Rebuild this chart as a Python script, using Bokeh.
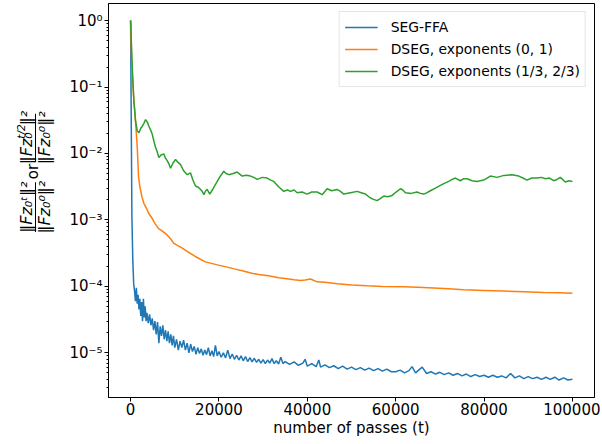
import math
from bokeh.plotting import figure
from bokeh.layouts import row
from bokeh.models import (FixedTicker, CustomJSTickFormatter, NumeralTickFormatter, Range1d)
from bokeh.core.properties import value
from bokeh.embed import file_html
from bokeh.resources import INLINE

# ---------------- data ----------------
X_TICKS = [0, 20000, 40000, 60000, 80000, 100000]
Y_TICKS = [1e-5, 1e-4, 1e-3, 1e-2, 1e-1, 1e0]

SERIES_NAMES = ["SEG-FFA", "DSEG, exponents (0, 1)", "DSEG, exponents (1/3, 2/3)"]
SERIES_COLORS = ["#1f77b4", "#ff7f0e", "#2ca02c"]

seg_t = [0, 150, 300, 500, 700, 900, 1100, 1300, 1500, 1700, 1900, 2100, 2300, 2500, 2700,
         2900, 3100, 3300, 3500, 3700, 4000, 4300, 4600, 4900, 5200, 5500, 5800, 6100, 6400,
         6700, 7000, 7300, 7600, 7900, 8200, 8500, 8800, 9100, 9400, 9700, 10000, 10400,
         10800, 11200, 11600, 12000, 12400, 12800, 13200, 13600, 14000, 14400, 14800, 15200,
         15600, 16000, 16400, 16800, 17200, 17600, 18000, 18400, 18800, 19200, 19600, 20000,
         20500, 21000, 21500, 22000, 22500, 23000, 23500, 24000, 24500, 25000, 25500, 26000,
         26500, 27000, 27500, 28000, 28500, 29000, 29500, 30000, 30500, 31000, 31500, 32000,
         32500, 33000, 33500, 34000, 34500, 35000, 36000, 37000, 38000, 39000, 39500, 40000,
         41000, 42000, 42600, 43000, 44000, 45000, 46000, 47000, 48000, 49000, 50000, 51000,
         52000, 53000, 54000, 55000, 56000, 57000, 58000, 59000, 60000, 61000, 62000, 63000,
         63700, 64500, 65200, 66000, 67000, 68000, 69000, 70000, 71000, 72000, 73000, 74000,
         75000, 76000, 77000, 78000, 79000, 80000, 81000, 82000, 83000, 84000, 85000, 86000,
         87000, 88000, 89000, 90000, 91000, 92000, 93000, 94000, 95000, 96000, 97000, 98000,
         99000, 100000]
seg_v = [1.0, 3.0e-2, 1.1e-3, 2.5e-4, 1.1e-4, 8.5e-5, 6.0e-5, 9.5e-5, 5.5e-5, 7.5e-5, 4.5e-5,
         6.5e-5, 3.6e-5, 5.8e-5, 3.0e-5, 6.5e-5, 3.4e-5, 5.0e-5, 3.0e-5, 4.0e-5, 2.8e-5, 3.8e-5,
         2.6e-5, 3.3e-5, 2.2e-5, 3.0e-5, 1.9e-5, 2.9e-5, 1.4e-5, 2.5e-5, 1.8e-5, 2.6e-5, 1.6e-5,
         2.2e-5, 1.5e-5, 2.1e-5, 1.4e-5, 1.9e-5, 1.3e-5, 1.8e-5, 1.2e-5, 1.6e-5, 1.1e-5, 1.5e-5,
         1.2e-5, 1.55e-5, 1.1e-5, 1.4e-5, 1.0e-5, 1.35e-5, 1.05e-5, 1.25e-5, 9.5e-6, 1.2e-5,
         9.8e-6, 1.15e-5, 9.2e-6, 1.1e-5, 9.4e-6, 1.2e-5, 9.0e-6, 1.08e-5, 8.8e-6, 1.3e-5,
         9.0e-6, 1.05e-5, 8.6e-6, 1.0e-5, 8.4e-6, 1.1e-5, 8.2e-6, 9.6e-6, 8.0e-6, 9.2e-6,
         7.8e-6, 9.0e-6, 7.6e-6, 8.8e-6, 7.4e-6, 8.5e-6, 7.3e-6, 8.3e-6, 7.2e-6, 8.0e-6, 7.0e-6,
         7.9e-6, 6.9e-6, 7.8e-6, 7.0e-6, 8.2e-6, 6.9e-6, 7.6e-6, 6.8e-6, 8.6e-6, 6.9e-6, 7.4e-6,
         6.7e-6, 7.3e-6, 6.5e-6, 7.0e-6, 8.0e-6, 6.3e-6, 6.9e-6, 6.2e-6, 7.8e-6, 6.1e-6, 6.6e-6,
         6.0e-6, 6.4e-6, 5.8e-6, 6.3e-6, 5.7e-6, 6.1e-6, 5.6e-6, 6.0e-6, 5.5e-6, 5.9e-6, 5.4e-6,
         5.8e-6, 5.3e-6, 5.7e-6, 5.2e-6, 5.2e-6, 5.5e-6, 5.0e-6, 5.4e-6, 6.2e-6, 5.0e-6, 5.5e-6,
         6.1e-6, 4.9e-6, 5.2e-6, 4.8e-6, 5.1e-6, 4.7e-6, 5.0e-6, 4.6e-6, 4.9e-6, 4.5e-6, 4.8e-6,
         4.4e-6, 4.7e-6, 4.4e-6, 4.6e-6, 4.3e-6, 4.6e-6, 4.3e-6, 4.5e-6, 4.2e-6, 4.9e-6, 4.2e-6,
         4.5e-6, 4.1e-6, 4.4e-6, 4.1e-6, 4.3e-6, 4.0e-6, 4.3e-6, 4.0e-6, 4.3e-6, 3.9e-6, 4.2e-6,
         3.9e-6, 4.0e-6]

dseg01_t = [0, 100, 250, 500, 750, 1000, 1500, 1800, 2100, 2560, 3000, 3700, 4070, 4820, 5500,
            6330, 7200, 8210, 9000, 9730, 10500, 11600, 13000, 14630, 16900, 19900, 21900,
            23680, 25500, 27440, 29000, 31220, 33480, 35000, 37000, 38500, 39500, 40720, 42230,
            44000, 46750, 50000, 53540, 57000, 61820, 65000, 68600, 72000, 75390, 80000, 84440,
            89000, 93490, 97000, 100000]
dseg01_v = [1.0, 0.50, 0.25, 0.112, 0.0617, 0.0398, 0.0126, 4.47e-3, 3.16e-3, 2.24e-3, 1.78e-3,
            1.45e-3, 1.26e-3, 1.07e-3, 8.9e-4, 7.4e-4, 6.8e-4, 6.0e-4, 5.25e-4, 4.47e-4, 4.17e-4,
            3.8e-4, 3.31e-4, 2.82e-4, 2.34e-4, 2.09e-4, 1.95e-4, 1.82e-4, 1.70e-4, 1.58e-4,
            1.51e-4, 1.45e-4, 1.35e-4, 1.32e-4, 1.26e-4, 1.23e-4, 1.245e-4, 1.29e-4, 1.17e-4,
            1.15e-4, 1.10e-4, 1.05e-4, 1.02e-4, 1.0e-4, 9.9e-5, 9.7e-5, 9.5e-5, 9.2e-5, 8.9e-5,
            8.7e-5, 8.5e-5, 8.3e-5, 8.1e-5, 8.0e-5, 7.9e-5]

dseg13_t = [0, 380, 750, 1100, 1510, 1880, 2300, 2650, 3000, 3390, 3800, 4140, 4500, 4900, 5300,
            5660, 6000, 6400, 6900, 7530, 7900, 8290, 8700, 9050, 9600, 10180, 10700, 11310,
            12000, 12820, 13570, 14100, 14700, 15300, 15830, 16200, 16580, 17000, 17340, 17920,
            18500, 19000, 19610, 20300, 21100, 21600, 22240, 23200, 24130, 24700, 25260, 26200,
            27140, 27900, 28650, 29800, 30910, 31700, 32410, 33500, 34680, 35500, 36190, 37000,
            37700, 38800, 39960, 41000, 42230, 43360, 44490, 45500, 46750, 47500, 48250, 49800,
            51280, 52200, 53160, 54290, 55000, 55800, 56500, 57300, 58200, 59190, 60100, 61070,
            61600, 62200, 63500, 64840, 65600, 66330, 67100, 67860, 69000, 70120, 71000, 72000,
            72800, 73510, 74650, 75400, 76160, 77300, 78420, 79900, 81430, 82950, 84500, 86340,
            87840, 88800, 89730, 90800, 91990, 93000, 93870, 94800, 95750, 96500, 97270, 98400,
            99200, 100000]
dseg13_v = [1.0, 0.20, 0.0617, 0.0316, 0.0219, 0.0204, 0.0240, 0.0257, 0.0282, 0.0324, 0.0295,
            0.0257, 0.0229, 0.0195, 0.0151, 0.0123, 0.0107, 8.7e-3, 9.5e-3, 9.8e-3, 8.5e-3,
            7.8e-3, 6.9e-3, 6.0e-3, 7.2e-3, 8.1e-3, 7.4e-3, 6.8e-3, 5.5e-3, 4.8e-3, 5.1e-3,
            4.0e-3, 3.24e-3, 3.1e-3, 2.88e-3, 2.7e-3, 2.4e-3, 2.75e-3, 2.88e-3, 2.45e-3, 2.82e-3,
            3.24e-3, 3.8e-3, 4.57e-3, 5.4e-3, 5.0e-3, 4.8e-3, 5.0e-3, 5.25e-3, 4.9e-3, 4.57e-3,
            4.7e-3, 4.57e-3, 4.37e-3, 4.07e-3, 4.37e-3, 4.27e-3, 3.98e-3, 3.8e-3, 3.16e-3,
            2.69e-3, 2.82e-3, 2.69e-3, 2.82e-3, 2.57e-3, 2.63e-3, 2.45e-3, 2.63e-3, 2.63e-3,
            2.4e-3, 2.95e-3, 2.75e-3, 2.88e-3, 2.69e-3, 2.45e-3, 2.57e-3, 2.69e-3, 2.57e-3,
            2.45e-3, 2.14e-3, 2.04e-3, 1.95e-3, 2.09e-3, 2.29e-3, 2.24e-3, 2.34e-3, 2.63e-3,
            2.95e-3, 2.82e-3, 2.57e-3, 2.51e-3, 2.63e-3, 2.51e-3, 2.45e-3, 2.57e-3, 2.75e-3,
            3.02e-3, 3.31e-3, 3.55e-3, 3.8e-3, 4.07e-3, 4.27e-3, 3.89e-3, 4.17e-3, 4.17e-3,
            3.89e-3, 3.8e-3, 3.98e-3, 4.57e-3, 4.37e-3, 4.68e-3, 4.79e-3, 4.57e-3, 4.27e-3,
            3.98e-3, 4.27e-3, 4.27e-3, 4.37e-3, 4.17e-3, 4.27e-3, 3.89e-3, 4.07e-3, 4.37e-3,
            3.72e-3, 3.89e-3, 3.8e-3]

X_LABEL = "number of passes (t)"

FONT = "DejaVu Sans"
H = 443          # page height used
LW = 60          # width of the y-label strip

# ---------------- y-label strip (its own small figure, drawn in pixel space) ----------------
lf = figure(width=LW, height=H, output_backend="svg", toolbar_location=None,
            x_range=Range1d(0, LW), y_range=Range1d(H, 0),
            min_border=0, x_axis_location=None, y_axis_location=None,
            background_fill_color="white", border_fill_color="white")
lf.xgrid.visible = False
lf.ygrid.visible = False
lf.outline_line_color = None

ROT = math.pi / 2

def lab(txt, x, y, size="16px", style="italic", align="center"):
    lf.text(x=[x], y=[y], text=[txt], angle=ROT, text_font=value(FONT),
            text_font_size=value(size), text_font_style=style, text_align=align,
            text_baseline="middle", text_color="black")

NUM_X, DEN_X, BAR_X = 26, 44, 35
C1, C2 = 229, 151          # centres of the two fractions (page y)
lab("\u2016Fz\u2080\u1d57\u2016\u00b2", NUM_X, C1)
lab("\u2016Fz\u2080\u2070\u2016\u00b2", DEN_X, C1)
lab("or", 32, 189, size="15px", style="normal")
# ||Fz_0^{t/2}||^2
Q = C2 + 1
lab("\u2016Fz", NUM_X, Q, align="right")
lab("\u2080", NUM_X, Q, align="left")
lab("t/2", NUM_X - 6, Q, size="10.5px", align="left")
lab("\u2016\u00b2", NUM_X, Q - 15, align="left")
lab("\u2016Fz\u2080\u2070\u2016\u00b2", DEN_X, C2)
lf.segment(x0=[BAR_X, BAR_X], y0=[C1 - 28, C2 - 27], x1=[BAR_X, BAR_X], y1=[C1 + 28, C2 + 27],
           line_color="black", line_width=1)

# ---------------- main figure ----------------
p = figure(width=600 - LW, height=H, output_backend="svg", toolbar_location=None,
           y_axis_type="log",
           x_range=Range1d(-5000, 105000), y_range=Range1d(2.13e-6, 1.806),
           min_border_left=108 - LW, min_border_right=6, min_border_top=3, min_border_bottom=46,
           background_fill_color="white", border_fill_color="white")

p.xgrid.visible = False
p.ygrid.visible = False
p.outline_line_color = "black"
p.outline_line_width = 1
p.outline_line_alpha = 1

for t, v, name, col in zip([seg_t, dseg01_t, dseg13_t], [seg_v, dseg01_v, dseg13_v],
                           SERIES_NAMES, SERIES_COLORS):
    p.line(t, v, line_color=col, line_width=1.5, legend_label=name)

p.xaxis.ticker = FixedTicker(ticks=X_TICKS, minor_ticks=[])
p.xaxis.formatter = NumeralTickFormatter(format="0")
minor = [m * 10.0 ** e for e in range(-6, 1) for m in range(2, 10)]
p.yaxis.ticker = FixedTicker(ticks=Y_TICKS, minor_ticks=minor)
p.yaxis.formatter = CustomJSTickFormatter(code="""
    const sup = {"-": "\u207b", "0": "\u2070", "1": "\u00b9", "2": "\u00b2", "3": "\u00b3",
                 "4": "\u2074", "5": "\u2075", "6": "\u2076", "7": "\u2077", "8": "\u2078", "9": "\u2079"};
    const e = Math.round(Math.log10(tick));
    return "10" + String(e).split("").map(c => sup[c]).join("");
""")
for ax in (p.xaxis[0], p.yaxis[0]):
    ax.axis_line_color = "black"
    ax.major_tick_line_color = "black"
    ax.minor_tick_line_color = "black"
    ax.major_tick_out = 4
    ax.major_tick_in = 0
    ax.minor_tick_out = 2
    ax.minor_tick_in = 0
    ax.major_label_text_font = FONT
    ax.major_label_text_font_size = "15px"
    ax.major_label_text_color = "black"
    ax.major_label_standoff = 2
p.xaxis.minor_tick_line_color = None
p.xaxis.major_label_standoff = 1
p.xaxis.axis_label = X_LABEL
p.xaxis.axis_label_text_font = FONT
p.xaxis.axis_label_text_font_size = "15px"
p.xaxis.axis_label_text_font_style = "normal"
p.xaxis.axis_label_text_color = "black"
p.xaxis.axis_label_standoff = 1

lg = p.legend[0]
lg.location = "top_right"
lg.margin = 8
lg.padding = 5
lg.spacing = 2
lg.label_height = 20
lg.glyph_height = 20
lg.glyph_width = 33
lg.label_standoff = 13
lg.label_text_font = FONT
lg.label_text_font_size = "13.9px"
lg.label_text_color = "black"
lg.border_line_color = "#cccccc"
lg.border_line_width = 1
lg.background_fill_color = "white"
lg.background_fill_alpha = 0.8

layout = row(lf, p, spacing=0)
open("out.html", "w").write(file_html(layout, INLINE))
